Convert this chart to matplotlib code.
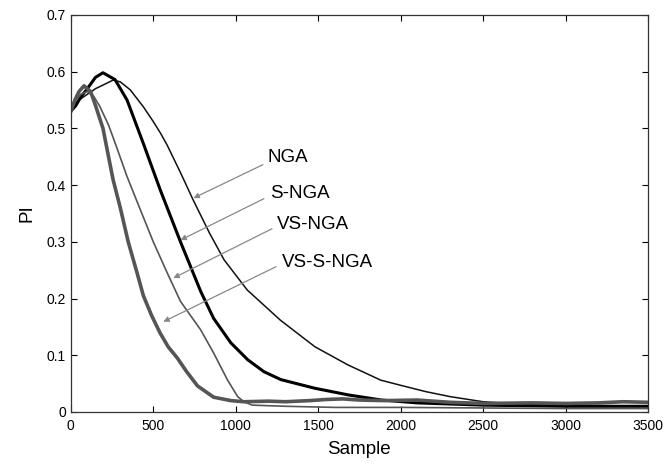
import matplotlib
matplotlib.use("Agg")
import matplotlib.pyplot as plt

plt.rcParams['font.family'] = ['Liberation Sans', 'DejaVu Sans']

# NGA (thin black)
nga_x = [0, 30, 60, 100, 150, 200, 256, 300, 360, 440, 500, 543, 585, 665, 740, 840, 930, 1070, 1270,
         1480, 1680, 1880, 2000, 2150, 2300, 2500, 2700, 3000, 3250, 3500]
nga_y = [0.53, 0.545, 0.552, 0.56, 0.57, 0.577, 0.585, 0.582, 0.568, 0.538, 0.512, 0.492, 0.47, 0.422,
         0.375, 0.316, 0.268, 0.215, 0.162, 0.115, 0.083, 0.056, 0.047, 0.036, 0.027, 0.018, 0.014,
         0.012, 0.011, 0.01]

# S-NGA (thick black)
snga_x = [0, 30, 60, 100, 150, 195, 268, 341, 439, 543, 665, 787, 866, 970, 1073, 1171, 1274, 1476,
          1683, 1884, 2100, 2500, 3000, 3500]
snga_y = [0.53, 0.54, 0.555, 0.57, 0.59, 0.598, 0.586, 0.55, 0.474, 0.391, 0.3, 0.213, 0.165, 0.122,
          0.092, 0.071, 0.057, 0.042, 0.03, 0.021, 0.016, 0.012, 0.01, 0.01]

# VS-NGA (thin gray)
vsnga_x = [0, 30, 60, 100, 140, 177, 230, 280, 341, 421, 500, 585, 665, 787, 866, 951, 1012, 1049,
           1100, 1300, 1600, 2000, 2500, 3000, 3500]
vsnga_y = [0.53, 0.55, 0.56, 0.565, 0.556, 0.538, 0.505, 0.465, 0.415, 0.357, 0.3, 0.245, 0.195, 0.145,
           0.104, 0.056, 0.027, 0.018, 0.012, 0.01, 0.008, 0.008, 0.007, 0.006, 0.006]

# VS-S-NGA (thick gray)
vssnga_x = [0, 25, 50, 80, 120, 150, 195, 256, 300, 348, 402, 440, 490, 540, 590, 646, 700, 768, 866,
            970, 1050, 1200, 1300, 1450, 1550, 1650, 1750, 1900, 2100, 2300, 2500, 2800, 3000, 3200,
            3350, 3500]
vssnga_y = [0.53, 0.55, 0.565, 0.575, 0.565, 0.54, 0.5, 0.41, 0.36, 0.3, 0.245, 0.205, 0.17, 0.14,
            0.115, 0.095, 0.072, 0.046, 0.026, 0.02, 0.018, 0.019, 0.018, 0.02, 0.022, 0.023, 0.021,
            0.02, 0.021, 0.017, 0.015, 0.016, 0.015, 0.016, 0.018, 0.017]

labels = ['NGA', 'S-NGA', 'VS-NGA', 'VS-S-NGA']
label_xy = [(1195, 0.448), (1207, 0.386), (1250, 0.330), (1280, 0.263)]
arrow_tail = [(1165, 0.436), (1171, 0.376), (1220, 0.323), (1244, 0.256)]
arrow_tip = [(744, 0.377), (665, 0.303), (622, 0.236), (561, 0.159)]

fig = plt.figure(figsize=(6.68, 4.66), dpi=100)
ax = fig.add_axes([0.106, 0.116, 0.864, 0.852])

ax.plot(nga_x, nga_y, color='#111111', lw=1.1)
ax.plot(snga_x, snga_y, color='#000000', lw=2.2)
ax.plot(vsnga_x, vsnga_y, color='#555555', lw=1.2)
ax.plot(vssnga_x, vssnga_y, color='#555555', lw=2.6)

for lab, txy, tail, tip in zip(labels, label_xy, arrow_tail, arrow_tip):
    ax.annotate('', xy=tip, xytext=tail,
                arrowprops=dict(arrowstyle='-|>', color='#888888', lw=0.9,
                                mutation_scale=8, shrinkA=0, shrinkB=0))
    ax.text(txy[0], txy[1], lab, fontsize=13.5, va='center', ha='left')

ax.set_xlim(0, 3500)
ax.set_ylim(0, 0.7)
ax.set_xticks([0, 500, 1000, 1500, 2000, 2500, 3000, 3500])
ax.set_yticks([0, 0.1, 0.2, 0.3, 0.4, 0.5, 0.6, 0.7])
ax.set_yticklabels(['0', '0.1', '0.2', '0.3', '0.4', '0.5', '0.6', '0.7'])
ax.tick_params(direction='in', top=True, right=True, length=4, labelsize=10, width=0.8)
ax.tick_params(axis='x', pad=5)
for s in ax.spines.values():
    s.set_linewidth(0.9)
    s.set_color('#333333')

ax.set_xlabel('Sample', fontsize=13.5, labelpad=6)
ax.set_ylabel('PI', fontsize=13.5, labelpad=8)

fig.savefig('out.png', dpi=100)
